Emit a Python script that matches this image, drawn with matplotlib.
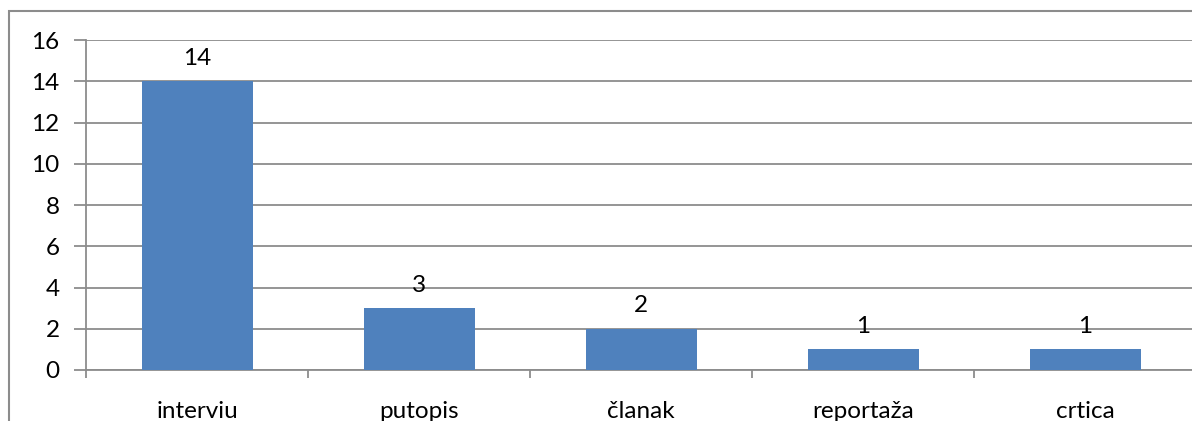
import matplotlib
matplotlib.use("Agg")
import matplotlib.pyplot as plt
from matplotlib.patches import Rectangle

categories = ["interviu", "putopis", "članak", "reportaža", "crtica"]
values = [14, 3, 2, 1, 1]
yticks = [0, 2, 4, 6, 8, 10, 12, 14, 16]

plt.rcParams['font.family'] = ['Lato', 'DejaVu Sans']

W, H = 1192, 421
fig = plt.figure(figsize=(W / 100, H / 100), dpi=100)
ax = fig.add_axes([86 / W, 1 - 370 / H, (1196 - 86) / W, (370 - 40) / H])

grid_c = "#8c8c8c"
x = list(range(len(categories)))
ax.bar(x, values, width=0.5, color="#4F81BD", zorder=3)
ax.set_xlim(-0.5, len(categories) - 0.5)
ax.set_ylim(0, 16)
ax.set_yticks(yticks)
ax.yaxis.grid(True, color=grid_c, linewidth=1.3)
ax.set_axisbelow(True)
for s in ["top", "right"]:
    ax.spines[s].set_visible(False)
ax.spines["left"].set_color(grid_c)
ax.spines["bottom"].set_color(grid_c)
ax.spines["left"].set_linewidth(1.3)
ax.spines["bottom"].set_linewidth(1.3)

ax.tick_params(axis="y", length=9, color=grid_c, width=1.3, labelsize=17.5, pad=10)
ax.set_xticks([i - 0.5 for i in range(len(categories) + 1)], [""] * (len(categories) + 1))
ax.tick_params(axis="x", length=6, color=grid_c, width=1.3, direction="out")
ax.set_xticks(x, categories, minor=True)
ax.tick_params(axis="x", which="minor", length=0, labelsize=17.5, pad=22)

for xi, v in zip(x, values):
    ax.annotate(str(v), (xi, v), xytext=(0, 9), textcoords="offset points",
                ha="center", va="bottom", fontsize=17.5, zorder=4)

fig.patches.append(Rectangle((9 / W, -0.1), 1.2, (1 - 11 / H) + 0.1,
                             transform=fig.transFigure, fill=False,
                             edgecolor="#8c8c8c", linewidth=1.5))

fig.savefig("out.png", dpi=100)
